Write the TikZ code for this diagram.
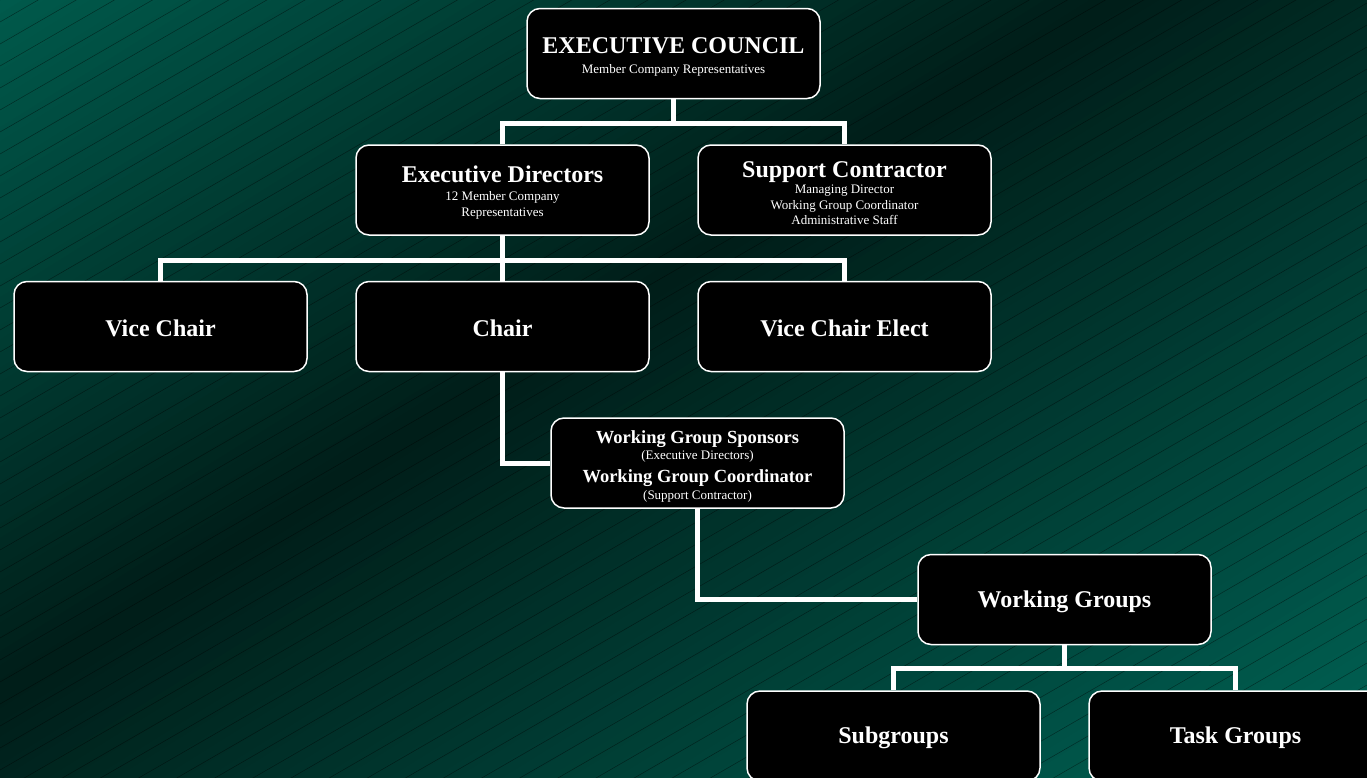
\documentclass[tikz,border=0pt]{standalone}
\usepackage{fontspec}
\setmainfont{Liberation Serif}
\usepackage{tikz}
\usetikzlibrary{positioning}

\newcommand{\orgtitle}[1]{{\fontsize{24}{26}\selectfont\bfseries #1}}
\newcommand{\orgmid}[1]{{\fontsize{18.5}{20}\selectfont\bfseries #1}}
\newcommand{\orgstrut}[1]{\rule{0pt}{#1}}

\begin{document}
\begin{tikzpicture}[x=1pt, y=-1pt,
    orgbox/.style={rectangle, rounded corners=13pt, draw=white, line width=1.5pt, fill=black, text=white,
        minimum width=293pt, minimum height=90pt, align=center, font=\fontsize{13}{15.5}\selectfont},
    wire/.style={draw=white, line width=5pt, line join=miter},
    hatch/.style={black, opacity=0.45, line width=0.5pt}]
    \useasboundingbox (0,0) rectangle (1367,777);
    \clip (0,0) rectangle (1367,777);

    \foreach \s in {-12,0,...,1392} {
        \pgfmathtruncatemacro\g{\s<250 ? 90-0.104*\s : (\s<580 ? 64-0.103*(\s-250) : 30+0.0871*(\s-580))}
        \pgfmathtruncatemacro\b{\s<250 ? 76-0.088*\s : (\s<580 ? 54-0.0879*(\s-250) : 25+0.0759*(\s-580))}
        \definecolor{bgcur}{RGB}{0,\g,\b}
        \fill[bgcur] ({0.53*\s-1700},{0.85*\s+1060}) -- ({0.53*\s+1700},{0.85*\s-1060})
            -- ({0.53*(\s+13)+1700},{0.85*(\s+13)-1060}) -- ({0.53*(\s+13)-1700},{0.85*(\s+13)+1060}) -- cycle;
    }
    \foreach \c in {0,22,...,1584}
        \draw[hatch] (0,\c) -- (1367,{\c-789});

    \node[orgbox] (ec) at (673.5,53.5) {\orgstrut{23pt}\orgtitle{EXECUTIVE COUNCIL}\\[4pt]Member Company Representatives};
    \node[orgbox, below=45pt of ec, xshift=-171pt] (ed) {\orgstrut{21pt}\orgtitle{Executive Directors}\\[3pt]12 Member Company\\Representatives};
    \node[orgbox, right=47.5pt of ed] (sc) {\orgstrut{22pt}\orgtitle{Support Contractor}\\[1pt]Managing Director\\Working Group Coordinator\\Administrative Staff};

    \node[orgbox, below=45pt of ed] (chair) {\orgstrut{20pt}\orgtitle{Chair}};
    \node[orgbox, left=47.5pt of chair] (vice) {\orgstrut{20pt}\orgtitle{Vice Chair}};
    \node[orgbox, right=47.5pt of chair] (vce) {\orgstrut{20pt}\orgtitle{Vice Chair Elect}};

    \node[orgbox, below=45pt of chair, xshift=195pt] (wgs) {\orgstrut{20pt}\orgmid{Working Group Sponsors}\\[1pt](Executive Directors)\\[6pt]\orgmid{Working Group Coordinator}\\[2pt](Support Contractor)};
    \node[orgbox, below=45pt of wgs, xshift=367pt] (wg) {\orgstrut{22pt}\orgtitle{Working Groups}};
    \node[orgbox, below=45pt of wg, xshift=-171pt] (sub) {\orgstrut{20pt}\orgtitle{Subgroups}};
    \node[orgbox, right=47.5pt of sub] (task) {\orgstrut{20pt}\orgtitle{Task Groups}};

    \draw[wire] (ec.south) -- ++(0,24) coordinate (ecbus);
    \draw[wire] (ed.north) |- (ecbus) -| (sc.north);
    \draw[wire] (ed.south) -- (chair.north);
    \draw[wire] (ed.south) -- ++(0,25) coordinate (edbus);
    \draw[wire] (vice.north) |- (edbus) -| (vce.north);
    \draw[wire] (chair.south) |- (wgs.west);
    \draw[wire] (wgs.south) |- (wg.west);
    \draw[wire] (wg.south) -- ++(0,23) coordinate (wgbus);
    \draw[wire] (sub.north) |- (wgbus) -| (task.north);
\end{tikzpicture}
\end{document}
